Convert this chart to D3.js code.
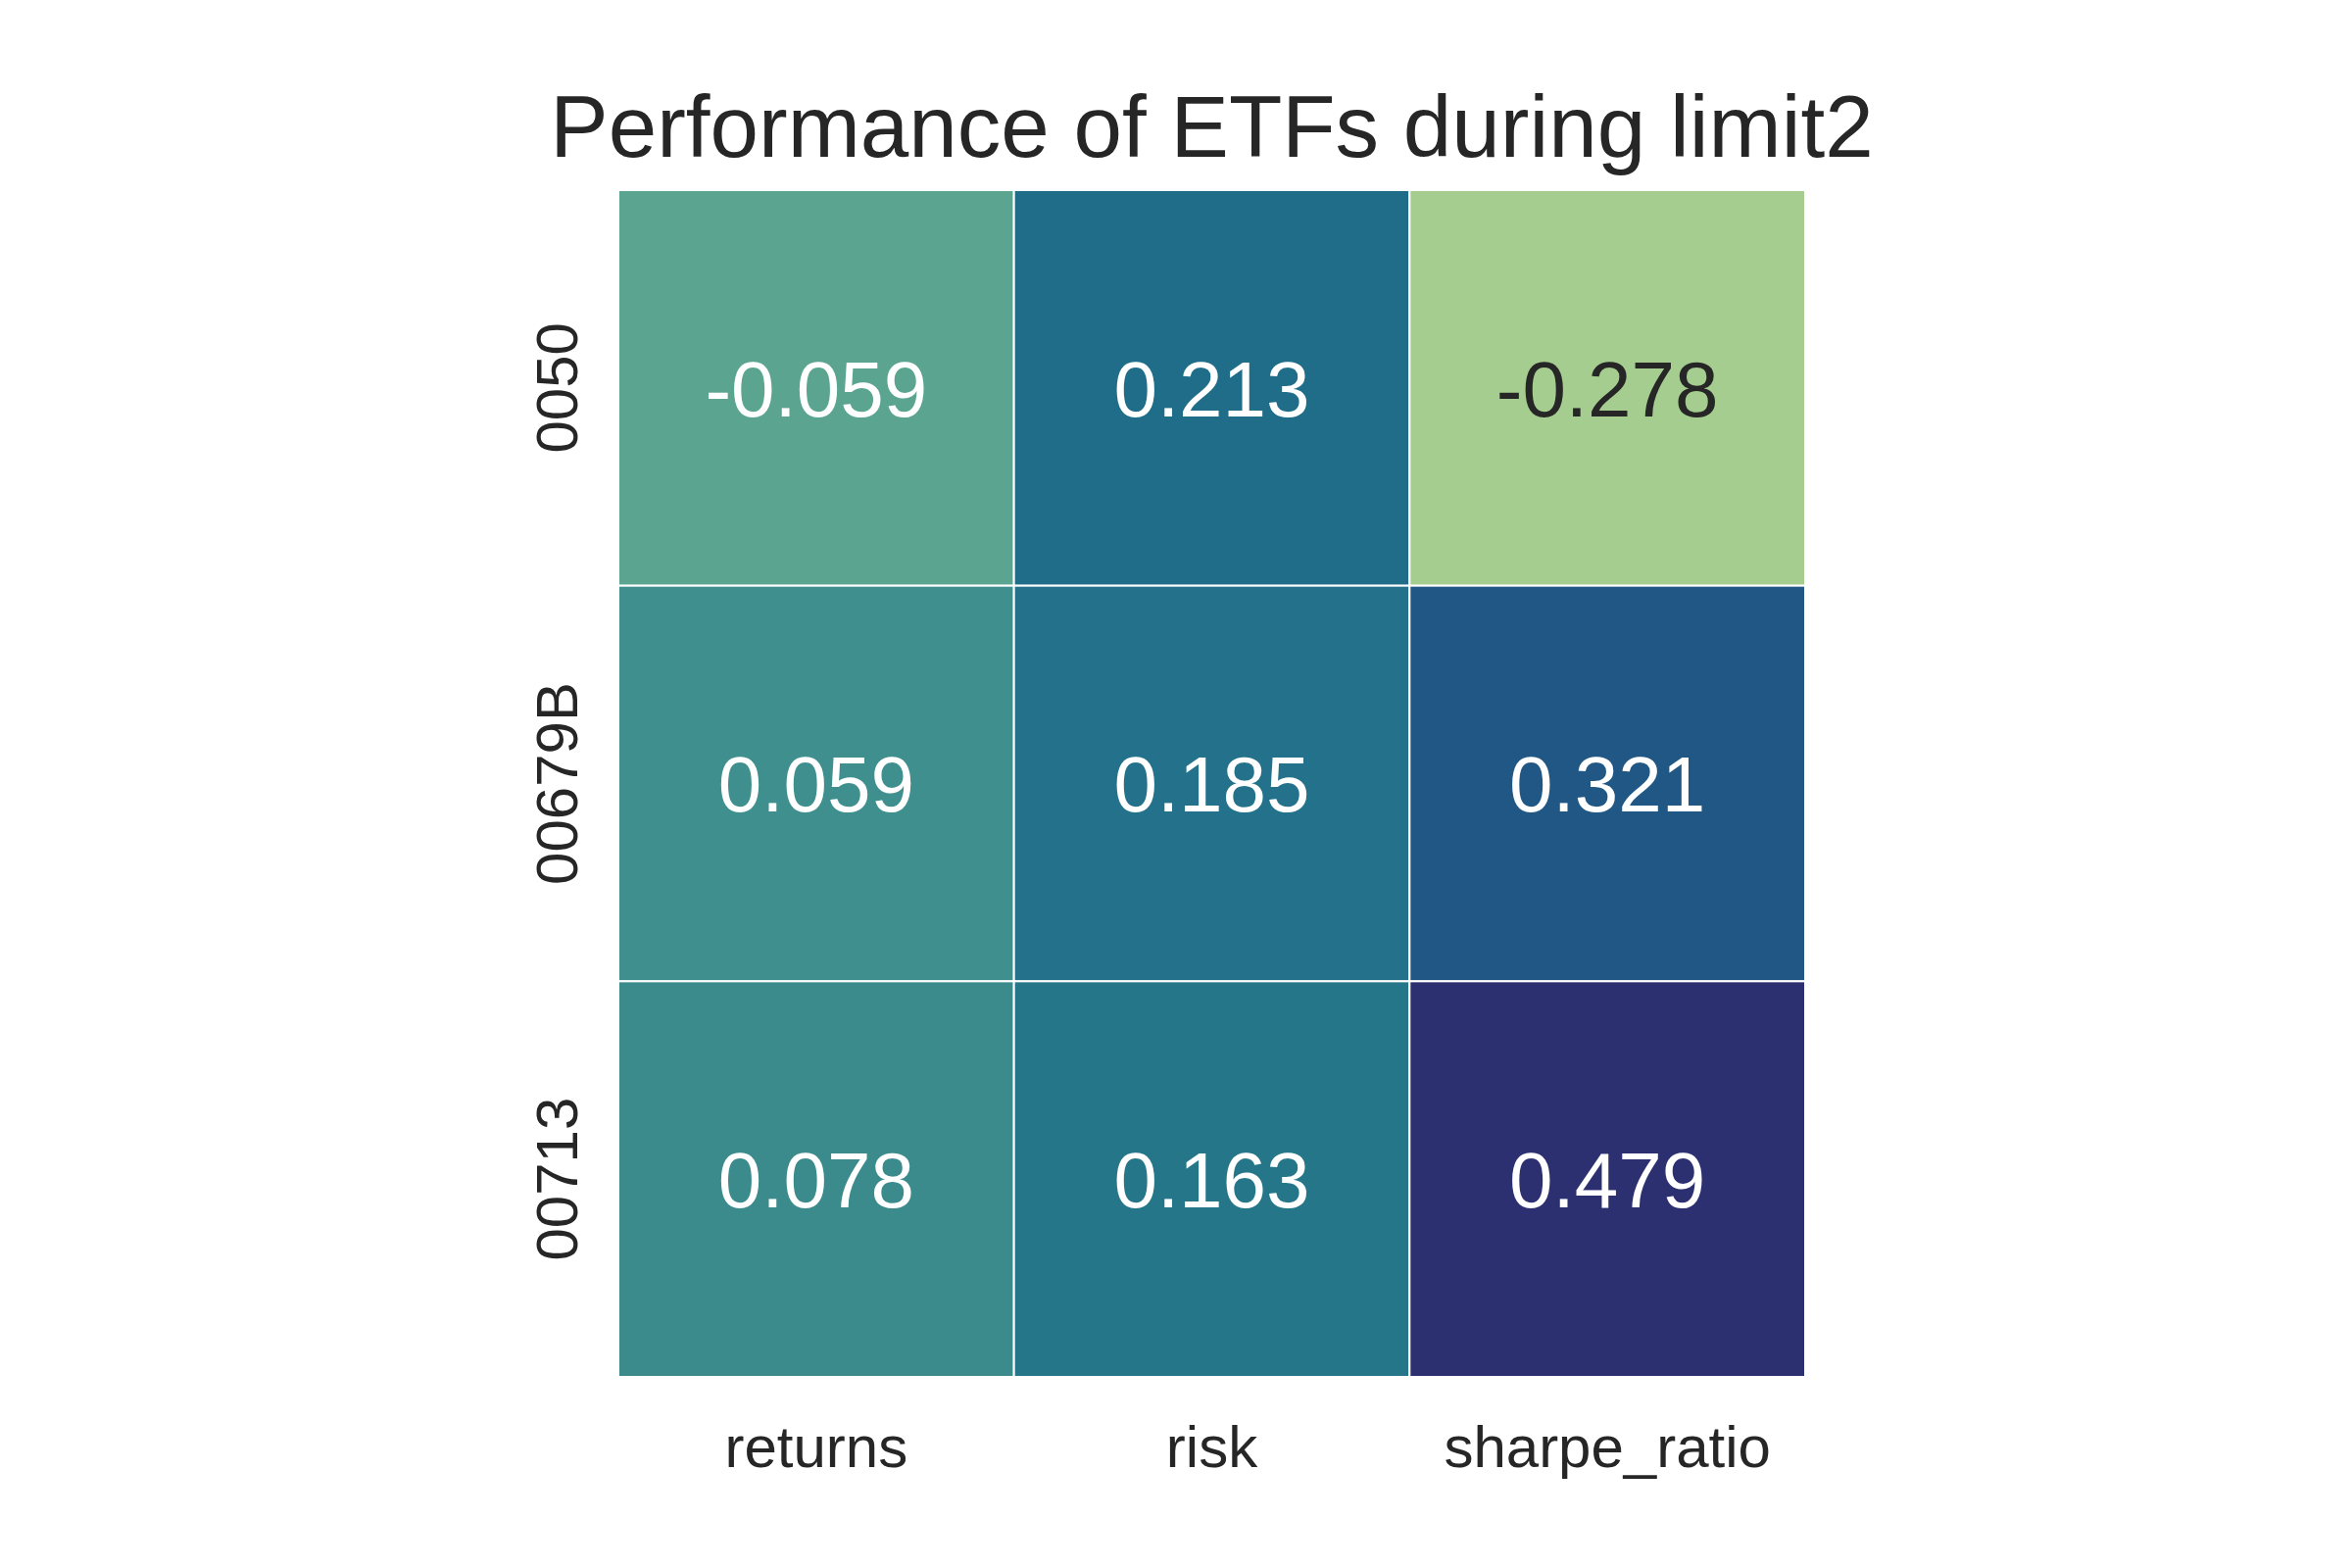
<!DOCTYPE html>
<html>
<head>
<meta charset="utf-8">
<script src="https://cdn.jsdelivr.net/npm/d3@7"></script>
<style>
  body { margin: 0; background: #fff; }
  text { font-family: Arial, "Liberation Sans", sans-serif; }
</style>
</head>
<body>
<svg id="chart" width="2400" height="1600"></svg>
<script>
// data
var etfs = ["0050", "00679B", "00713"];
var metrics = ["returns", "risk", "sharpe_ratio"];
var returns = [-0.059, 0.059, 0.078];
var risk = [0.213, 0.185, 0.163];
var sharpe = [-0.278, 0.321, 0.479];

// crest-like colour ramp (value -> colour stops)
var crestStops = [-0.278, -0.059, 0.059, 0.078, 0.163, 0.185, 0.213, 0.321, 0.479];
var crestColors = ["#a5cd8f", "#5ba590", "#3f8f8e", "#3b8a8c", "#26768a", "#23718a", "#1f6d89", "#215784", "#2c2f70"];

var cells = [];
etfs.forEach(function(e, i){
	cells.push({row: e, col: "returns", v: returns[i]});
	cells.push({row: e, col: "risk", v: risk[i]});
	cells.push({row: e, col: "sharpe_ratio", v: sharpe[i]});
});

var svg = d3.select("#chart");
var mLeft = 631, mRight = 1842, mTop = 194, mBottom = 1405;

var x = d3.scaleBand().domain(metrics).range([mLeft, mRight]);
var y = d3.scaleBand().domain(etfs).range([mTop, mBottom]);
var color = d3.scaleLinear().domain(crestStops).range(crestColors);

svg.append("g").selectAll("rect").data(cells).enter().append("rect")
	.attr("x", function(d){ return x(d.col); })
	.attr("y", function(d){ return y(d.row); })
	.attr("width", x.bandwidth())
	.attr("height", y.bandwidth())
	.attr("fill", function(d){ return color(d.v); })
	.attr("stroke", "#fff")
	.attr("stroke-width", 2);

svg.append("g").selectAll("text").data(cells).enter().append("text")
	.attr("x", function(d){ return x(d.col) + x.bandwidth() / 2; })
	.attr("y", function(d){ return y(d.row) + y.bandwidth() / 2; })
	.attr("text-anchor", "middle")
	.attr("dy", "0.36em")
	.attr("font-size", 80)
	.attr("fill", function(d){ return d3.lab(color(d.v)).l > 65 ? "#262626" : "#ffffff"; })
	.text(function(d){ return d3.format(".3f")(d.v).replace("−", "-"); });

// x axis labels
svg.append("g").selectAll("text").data(metrics).enter().append("text")
	.attr("x", function(d){ return x(d) + x.bandwidth() / 2; })
	.attr("y", mBottom + 92)
	.attr("text-anchor", "middle")
	.attr("font-size", 60)
	.attr("fill", "#262626")
	.text(function(d){ return d; });

// y axis labels (rotated)
svg.append("g").selectAll("text").data(etfs).enter().append("text")
	.attr("transform", function(d){ return "translate(" + (mLeft - 42) + "," + (y(d) + y.bandwidth() / 2) + ") rotate(-90)"; })
	.attr("text-anchor", "middle")
	.attr("font-size", 60)
	.attr("fill", "#262626")
	.text(function(d){ return d; });

svg.append("text")
	.attr("x", (mLeft + mRight) / 2)
	.attr("y", 160)
	.attr("text-anchor", "middle")
	.attr("font-size", 89)
	.attr("fill", "#262626")
	.text("Performance of ETFs during limit2");
</script>
</body>
</html>
